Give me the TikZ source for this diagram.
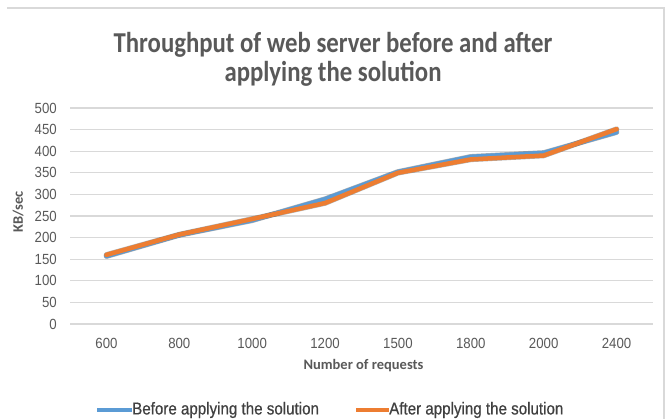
\documentclass[tikz,border=0pt]{standalone}
\usepackage{fontspec}
\newfontfamily\ttlfont[FakeStretch=0.86]{Carlito}
\newfontfamily\axfont{Carlito}
\newfontfamily\tickfont[FakeStretch=0.9]{Liberation Sans}
\newfontfamily\legfont[FakeStretch=0.88,FakeBold=0.6]{Liberation Sans}
\definecolor{txtgray}{HTML}{595959}
\definecolor{legtxt}{HTML}{404040}
\definecolor{gridgray}{HTML}{D9D9D9}
\definecolor{serblue}{HTML}{5B9BD5}
\definecolor{serorange}{HTML}{ED7D31}
\tikzset{
  gridline/.style={draw=gridgray, line width=1.2pt},
  ticklab/.style={font=\tickfont\fontsize{14.7}{16}\selectfont, text=txtgray, inner sep=0pt},
  axtitle/.style={font=\axfont\bfseries\fontsize{14.5}{16}\selectfont, text=txtgray, inner sep=0pt},
  legtext/.style={font=\legfont\fontsize{17.2}{19}\selectfont, text=legtxt, inner sep=0pt, anchor=west},
  serline/.style={line width=4.5pt, line join=round, line cap=round},
  shadowline/.style={line width=5.5pt, line join=round, line cap=round, draw=black, opacity=0.3}
}
\begin{document}
\begin{tikzpicture}[x=1pt,y=-1pt]
\useasboundingbox (0,0) rectangle (670,419);
\fill[white] (0,0) rectangle (670,419);
% chart border
\draw[draw=gridgray, line width=1.5pt] (7,8) -- (664,8) -- (664,419);
% title
\node[font=\ttlfont\bfseries\fontsize{28.8}{29}\selectfont, text=txtgray, align=center, inner sep=0pt] (title) at (333,59)
  {Throughput of web server before and after\\applying the solution};
% gridlines and y labels
\foreach \v in {0,50,...,500} {
  \draw[gridline] (70,{324-0.432*\v}) -- (653,{324-0.432*\v});
  \node[ticklab, anchor=east] (y\v) at (57,{324-0.432*\v}) {\v};
}
% x labels
\foreach \lab [count=\i] in {600,800,1000,1200,1500,1800,2000,2400} {
  \node[ticklab] (x\i) at ({70+72.875*(\i-0.5)},343) {\lab};
}
% axis titles
\node[axtitle] (xtitle) at (363.5,366) {Number of requests};
\node[axtitle, rotate=90] (ytitle) at (18,212) {KB/sec};
% data points
\foreach \vb/\va [count=\i] in {157/160,206/207,240/243,289/280,352/350,387/381,396/390,444/451} {
  \coordinate (b\i) at ({70+72.875*(\i-0.5)},{324-0.432*\vb});
  \coordinate (a\i) at ({70+72.875*(\i-0.5)},{324-0.432*\va});
}
% shadows
\begin{scope}[xshift=1pt, yshift=-1.8pt]
  \draw[shadowline] (b1) -- (b2) -- (b3) -- (b4) -- (b5) -- (b6) -- (b7) -- (b8);
  \draw[shadowline] (a1) -- (a2) -- (a3) -- (a4) -- (a5) -- (a6) -- (a7) -- (a8);
\end{scope}
% series
\draw[serline, draw=serblue] (b1) -- (b2) -- (b3) -- (b4) -- (b5) -- (b6) -- (b7) -- (b8);
\draw[serline, draw=serorange] (a1) -- (a2) -- (a3) -- (a4) -- (a5) -- (a6) -- (a7) -- (a8);
% legend
\node[legtext] (legb) at (132,410) {Before applying the solution};
\coordinate (lbs) at (97,410);
\draw[draw=serblue, line width=4pt] (lbs) -- (legb.west);
\node[legtext] (lega) at (389,410) {After applying the solution};
\coordinate (las) at (356,410);
\draw[draw=serorange, line width=4pt] (las) -- (lega.west);
\end{tikzpicture}
\end{document}
